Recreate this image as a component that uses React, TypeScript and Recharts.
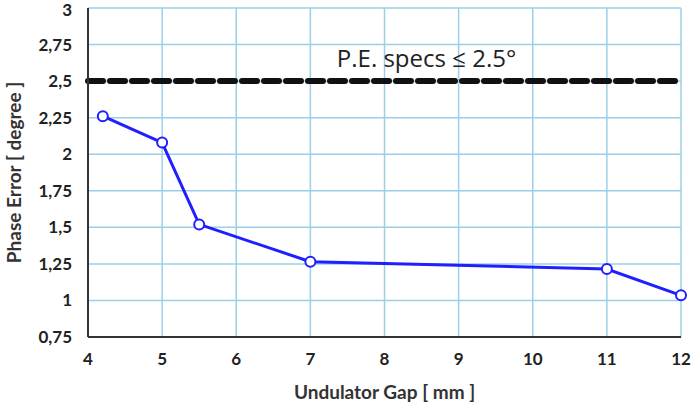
import {
  CartesianGrid,
  Label,
  Line,
  LineChart,
  ReferenceLine,
  XAxis,
  YAxis,
} from "recharts";

const gapMm = [4.2, 5, 5.5, 7, 11, 12];
const phaseErrorDeg = [2.26, 2.08, 1.52, 1.265, 1.215, 1.035];
const xTicks = [4, 5, 6, 7, 8, 9, 10, 11, 12];
const yTicks = [0.75, 1, 1.25, 1.5, 1.75, 2, 2.25, 2.5, 2.75, 3];
const specLimit = 2.5;

const data = gapMm.map((gap, i) => ({ gap, error: phaseErrorDeg[i] }));

const tickStyle = {
  fontFamily: "Lato, 'Open Sans', sans-serif",
  fontWeight: 700,
  fontSize: 17,
  fill: "#222",
};

const formatY = (v: number) => String(v).replace(".", ",");

export default function App() {
  return (
    <div style={{ position: "absolute", left: 0, top: 0, background: "#fff" }}>
      <LineChart
        width={692}
        height={403}
        data={data}
        margin={{ top: 8, right: 11, left: 0, bottom: 0 }}
      >
        <CartesianGrid stroke="#9ccfe6" strokeWidth={1.5} />
        <XAxis
          dataKey="gap"
          type="number"
          domain={[4, 12]}
          ticks={xTicks}
          tickSize={0}
          tickMargin={16}
          height={66}
          stroke="#333"
          strokeWidth={2}
          tick={tickStyle}
        >
          <Label
            value="Undulator Gap [ mm ]"
            position="insideBottom"
            offset={4}
            style={{ ...tickStyle, fontSize: 19, fill: "#333" }}
          />
        </XAxis>
        <YAxis
          type="number"
          domain={[0.75, 3]}
          ticks={yTicks}
          tickFormatter={formatY}
          tickSize={0}
          tickMargin={16}
          width={88}
          stroke="#333"
          strokeWidth={2}
          tick={tickStyle}
        >
          <Label
            value="Phase Error [ degree ]"
            angle={-90}
            position="insideLeft"
            offset={14}
            style={{ ...tickStyle, fontSize: 19, fill: "#333", textAnchor: "middle" }}
          />
        </YAxis>
        <XAxis
          xAxisId="top"
          orientation="top"
          type="number"
          dataKey="gap"
          domain={[4, 12]}
          height={0}
          tick={false}
          tickLine={false}
          stroke="#333"
          strokeWidth={2}
        />
        <YAxis
          yAxisId="right"
          orientation="right"
          type="number"
          domain={[0.75, 3]}
          width={0}
          tick={false}
          tickLine={false}
          stroke="#333"
          strokeWidth={2}
        />
        <ReferenceLine
          y={specLimit}
          stroke="#111"
          strokeWidth={6}
          strokeDasharray="15 7"
          strokeLinecap="round"
        >
          <Label
            value="P.E. specs ≤ 2.5°"
            position="top"
            offset={14}
            dx={42}
            style={{
              fontFamily: "'Open Sans', Lato, sans-serif",
              fontSize: 24,
              fill: "#222",
            }}
          />
        </ReferenceLine>
        <Line
          dataKey="error"
          stroke="#1f1fff"
          strokeWidth={3}
          dot={{ r: 5, fill: "#fff", stroke: "#1f1fff", strokeWidth: 2 }}
          isAnimationActive={false}
        />
      </LineChart>
    </div>
  );
}
